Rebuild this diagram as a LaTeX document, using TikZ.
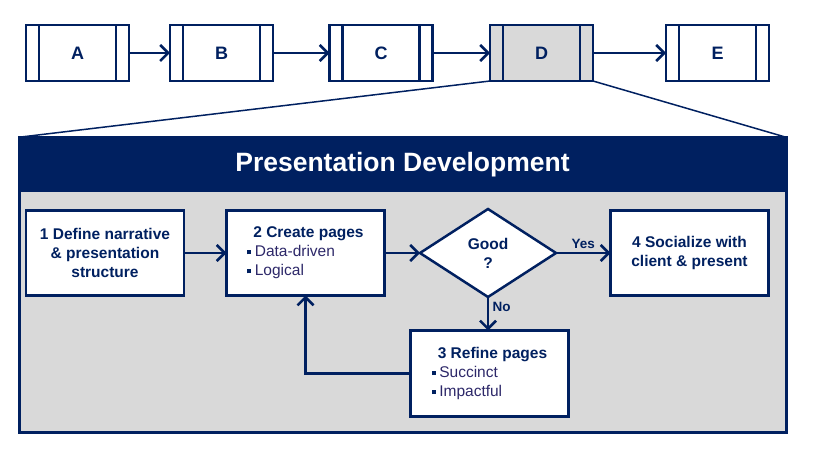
\documentclass[tikz,border=0pt]{standalone}
\usepackage{fontspec}
\setmainfont{Liberation Sans}
\usetikzlibrary{shapes.geometric,arrows.meta}
\definecolor{navy}{HTML}{002060}
\definecolor{panel}{HTML}{D9D9D9}
\definecolor{bultext}{RGB}{45,40,105}
\newcommand{\itm}[1]{{\color{navy}\rule[2.5pt]{4pt}{4pt}}\hspace{3.5pt}{\color{bultext}\mdseries #1}}
\tikzset{
  phase/.style={draw=navy, line width=2.5pt, outer sep=0pt, minimum width=103pt, minimum height=56pt,
    text=navy, font=\fontsize{18}{20}\selectfont\bfseries},
  stepbox/.style={draw=navy, fill=white, line width=2.5pt, outer sep=0pt, minimum width=158pt,
    minimum height=85pt, text=navy, align=center, font=\fontsize{15.5}{19}\selectfont\bfseries},
  flow/.style={navy, line width=2.5pt, -{Straight Barb[length=8pt,width=16pt]}},
  tag/.style={text=navy, font=\fontsize{13.5}{15}\selectfont\bfseries}
}
\begin{document}
\begin{tikzpicture}[x=1pt, y=-1pt]
  \useasboundingbox (0,0) rectangle (819,457);
  % phases
  \foreach \n/\x/\c in {A/77.5/white, B/221.5/white, C/381/white, D/541.5/panel, E/717.5/white} {
    \node[phase, fill=\c] (\n) at (\x,53) {\n};
    \draw[navy, line width=2.5pt] ([xshift=13pt]\n.north west) -- ([xshift=13pt]\n.south west);
    \draw[navy, line width=2.5pt] ([xshift=-13pt]\n.north east) -- ([xshift=-13pt]\n.south east);
  }
  \draw[flow] (A) -- (B);
  \draw[flow] (B) -- (C);
  \draw[flow] (C) -- (D);
  \draw[flow] (D) -- (E);

  % zoom into D
  \node[draw=navy, fill=panel, line width=3pt, outer sep=0pt, minimum width=767pt, minimum height=295pt] (dev) at (402.5,284.75) {};
  \node[fill=navy, anchor=north, minimum width=767pt, minimum height=55pt, text=white,
    font=\fontsize{26.5}{30}\selectfont\bfseries] (title) at (dev.north) {Presentation Development};
  \draw[navy, line width=1.5pt] (D.south west) -- (dev.north west);
  \draw[navy, line width=1.5pt] (D.south east) -- (dev.north east);

  % steps
  \node[stepbox] (define) at (105,253) {1 Define narrative\\\& presentation\\structure};
  \node[stepbox, align=left] (create) at (305.5,253) {\hspace*{6pt}2 Create pages\\\itm{Data-driven}\\\itm{Logical}};
  \node[diamond, draw=navy, fill=white, line width=2.5pt, outer sep=0pt, inner sep=0pt, minimum width=136pt,
    minimum height=88pt, text=navy, align=center, font=\fontsize{15.5}{19}\selectfont\bfseries] (good) at (488,253) {Good\\?};
  \node[stepbox] (social) at (689.5,253) {4 Socialize with\\client \& present};
  \node[stepbox, align=left, minimum height=86pt] (refine) at (489.5,373.5) {\hspace*{6pt}3 Refine pages\\\itm{Succinct}\\\itm{Impactful}};

  \draw[flow] (define) -- (create);
  \draw[flow] (create) -- (good);
  \draw[flow] (good) -- node[tag, above] (yes) {Yes} (social);
  \draw[flow] (good.south) -- node[tag, right, pos=0.3] (no) {No} (good.south |- refine.north);
  \draw[flow] (refine.west) -| (create.south);
\end{tikzpicture}
\end{document}
